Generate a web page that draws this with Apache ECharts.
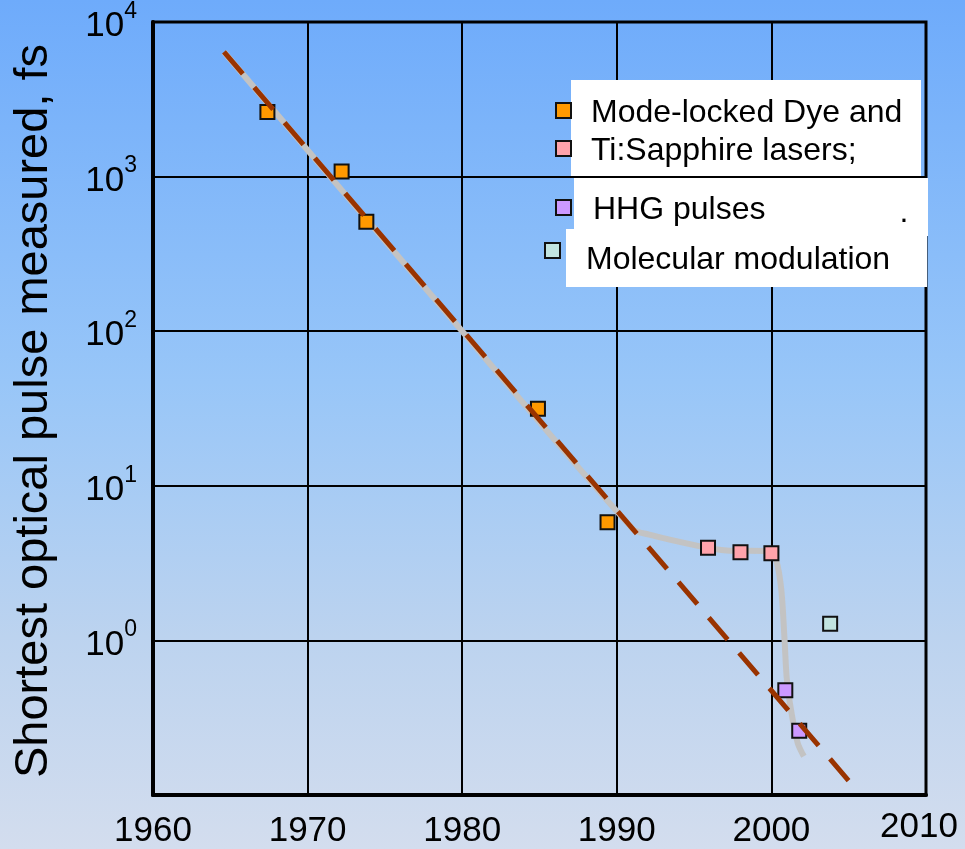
<!DOCTYPE html>
<html>
<head>
<meta charset="utf-8">
<script src="https://cdn.jsdelivr.net/npm/echarts@6/dist/echarts.min.js"></script>
<style>
html,body{margin:0;padding:0;}
#c{width:965px;height:849px;}
</style>
</head>
<body>
<div id="c"></div>
<script>
// ---- data (year, pulse duration in fs) ----
var dyeYears = [1967.4, 1972.2, 1973.8, 1984.9, 1989.4];
var dyeValues = [2620, 1080, 510, 31.5, 5.8];
var tiSaphYears = [1995.9, 1998.0, 2000.0];
var tiSaphValues = [3.98, 3.71, 3.66];
var hhgYears = [2000.9, 2001.8];
var hhgValues = [0.476, 0.26];
var molYears = [2003.8];
var molValues = [1.28];
var trendYears = [1964.59, 2004.99];
var trendValues = [6400, 0.124];
var envYears = [1964.59, 1980.0, 1991.0, 1992.1, 1995.4, 1997.1, 1999.9, 2000.3, 2000.64, 2000.85, 2001.0, 2001.3, 2001.7, 2002.1];
var envValues = [6400, 100, 5.3, 4.83, 4.06, 3.82, 3.77, 3.33, 2.13, 1.01, 0.558, 0.34, 0.217, 0.178];
var xTicks = [1960, 1970, 1980, 1990, 2000, 2010];
var seriesNames = ['Mode-locked Dye and', 'Ti:Sapphire lasers;', 'HHG pulses', 'Molecular modulation'];
var yTitle = 'Shortest optical pulse measured, fs';

function pairs(xs, ys){ return xs.map(function(x,i){ return [x, ys[i]]; }); }

var FONT = 'Liberation Sans, Arial, sans-serif';
var chart = echarts.init(document.getElementById('c'));

function markerSeries(name, xs, ys, color){
  return {
    name: name, type: 'scatter', data: pairs(xs, ys), symbol: 'rect', symbolSize: 14, z: 3,
    itemStyle: {color: color, borderColor: '#111', borderWidth: 2, opacity: 1}
  };
}

function legendAt(name, left, top, padLeft, padTop){
  return {
    data: [name], left: left, top: top, orient: 'horizontal', padding: 0,
    icon: 'rect', itemWidth: 15, itemHeight: 15, selectedMode: false, z: 6,
    itemStyle: {borderColor: '#111', borderWidth: 2},
    formatter: '{t|{name}}',
    textStyle: {fontFamily: FONT, fontSize: 32, color: '#000',
      rich: {t: {fontFamily: FONT, fontSize: 32, color: '#000', padding: [padTop, 0, 0, padLeft]}}}
  };
}

var option = {
  animation: false,
  backgroundColor: {type: 'linear', x: 0, y: 0, x2: 0, y2: 1, colorStops: [
    {offset: 0, color: '#6eabfb'}, {offset: 0.45, color: '#98c6f8'},
    {offset: 0.75, color: '#bcd3ef'}, {offset: 1, color: '#d3ddee'}]},
  grid: {left: 153, top: 22, right: 39, bottom: 54, show: true, borderColor: '#000', borderWidth: 3,
         outerBoundsMode: 'none', containLabel: false},
  xAxis: {
    type: 'value', min: 1960, max: 2010, interval: 10,
    axisLine: {show: true, onZero: false, lineStyle: {color: '#000', width: 4}},
    axisTick: {show: false},
    splitLine: {show: true, lineStyle: {color: '#000', width: 2}},
    axisLabel: {
      fontFamily: FONT, fontSize: 35, color: '#000', margin: 19,
      formatter: function(v){ return v === 2010 ? '{r|' + v + '}' : String(v); },
      rich: {r: {fontFamily: FONT, fontSize: 35, color: '#000', lineHeight: 27, padding: [0, 14, 0, 0]}}
    }
  },
  yAxis: {
    type: 'log', logBase: 10, min: 0.1, max: 10000,
    axisLine: {show: true, lineStyle: {color: '#000', width: 4}},
    axisTick: {show: false},
    minorTick: {show: false},
    splitLine: {show: true, lineStyle: {color: '#000', width: 2}},
    axisLabel: {
      margin: 16,
      formatter: function(v){
        var e = Math.round(Math.log(v) / Math.LN10);
        if (e < 0) return '';
        return '{b|10}{s|' + e + '}';
      },
      rich: {
        b: {fontFamily: FONT, fontSize: 35, color: '#000', lineHeight: 44, verticalAlign: 'bottom'},
        s: {fontFamily: FONT, fontSize: 23, color: '#000', lineHeight: 23, verticalAlign: 'top'}
      }
    }
  },
  legend: [
    legendAt(seriesNames[0], 555, 97, 15, 5),
    legendAt(seriesNames[1], 555, 135, 15, 5),
    legendAt(seriesNames[2], 555, 194, 17, 5),
    legendAt(seriesNames[3], 544, 242, 21, 20)
  ],
  graphic: [
    {type: 'rect', shape: {x: 571, y: 80, width: 350, height: 96}, style: {fill: '#fff'}, z: 5},
    {type: 'rect', shape: {x: 574, y: 178, width: 354, height: 58}, style: {fill: '#fff'}, z: 5},
    {type: 'rect', shape: {x: 566, y: 229, width: 361, height: 58}, style: {fill: '#fff'}, z: 5},
    {type: 'text', x: 904, y: 213, z: 7, style: {text: '.', fontFamily: FONT, fontSize: 32, fill: '#000', textAlign: 'center', textVerticalAlign: 'middle'}},
    {type: 'text', x: 34, y: 411, rotation: Math.PI / 2, z: 7,
     style: {text: yTitle, fontFamily: FONT, fontSize: 47, fill: '#000', textAlign: 'center', textVerticalAlign: 'middle'}}
  ],
  series: [
    {name: 'envelope', type: 'line', data: pairs(envYears, envValues), showSymbol: false, symbol: 'none',
     smooth: 0.3, z: 2, lineStyle: {color: '#c3c3c3', width: 6}},
    markerSeries(seriesNames[0], dyeYears, dyeValues, '#ff9900'),
    markerSeries(seriesNames[1], tiSaphYears, tiSaphValues, '#ffa3ab'),
    markerSeries(seriesNames[2], hhgYears, hhgValues, '#cc99ff'),
    markerSeries(seriesNames[3], molYears, molValues, '#c2e4e0'),
    {name: 'trend', type: 'line', data: pairs(trendYears, trendValues), showSymbol: false, symbol: 'none',
     z: 4, lineStyle: {color: '#993300', width: 5, type: [29, 17.56]}}
  ]
};
chart.setOption(option);
</script>
</body>
</html>
